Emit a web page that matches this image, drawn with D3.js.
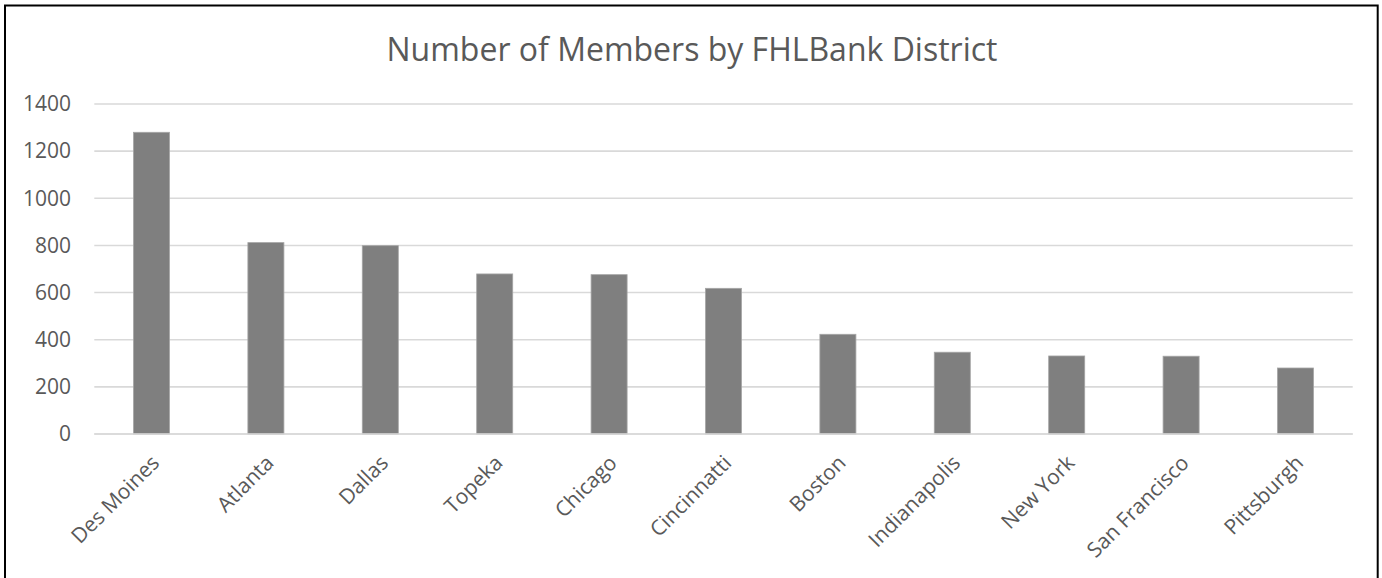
<!DOCTYPE html>
<html>
<head>
<meta charset="utf-8">
<script src="https://cdn.jsdelivr.net/npm/d3@7"></script>
<style>
  html, body { margin: 0; padding: 0; background: #fff; }
  svg { display: block; }
  text { font-family: "Open Sans", "Noto Sans", sans-serif; fill: #595959; }
</style>
</head>
<body>
<svg id="chart" width="1382" height="578"></svg>
<script>
const categories = ["Des Moines", "Atlanta", "Dallas", "Topeka", "Chicago", "Cincinnatti", "Boston", "Indianapolis", "New York", "San Francisco", "Pittsburgh"];
const members = [1280, 812, 799, 679, 676, 618, 423, 347, 331, 330, 280];
const yTicks = [0, 200, 400, 600, 800, 1000, 1200, 1400];
const title = "Number of Members by FHLBank District";

const plot = { left: 94.3, right: 1352.7, top: 104, bottom: 434 };

const svg = d3.select("#chart");

// outer border
svg.append("rect")
  .attr("x", 5).attr("y", 5.5)
  .attr("width", 1372.7).attr("height", 640)
  .attr("fill", "none").attr("stroke", "#000").attr("stroke-width", 2);

// title
svg.append("text")
  .attr("x", 692).attr("y", 60.5)
  .attr("text-anchor", "middle")
  .style("font-size", "32px")
  .text(title);

const x = d3.scaleBand()
  .domain(categories)
  .range([plot.left, plot.right])
  .paddingInner(0.685)
  .paddingOuter(0.3425);

const y = d3.scaleLinear()
  .domain([0, 1400])
  .range([plot.bottom, plot.top]);

// gridlines
svg.append("g").selectAll("line")
  .data(yTicks)
  .join("line")
  .attr("x1", plot.left).attr("x2", plot.right)
  .attr("y1", d => y(d)).attr("y2", d => y(d))
  .attr("stroke", "#d9d9d9").attr("stroke-width", 1.6);

// y axis labels
const yAxis = d3.axisLeft(y).tickValues(yTicks).tickSize(0).tickPadding(0).tickFormat(d3.format("d"));
const yg = svg.append("g").attr("transform", `translate(71,0)`).call(yAxis);
yg.select(".domain").remove();
yg.selectAll("text")
  .style("font-size", "21px")
  .attr("fill", "#595959")
  .attr("font-family", null);

// bars
svg.append("g").selectAll("rect")
  .data(categories.map((c, i) => ({ c, v: members[i] })))
  .join("rect")
  .attr("x", d => x(d.c))
  .attr("width", x.bandwidth())
  .attr("y", d => y(d.v))
  .attr("height", d => y(0) - y(d.v))
  .attr("fill", "#7f7f7f")
  .attr("stroke", "#a6a6a6").attr("stroke-width", 0.8);

// zero axis line
svg.append("line")
  .attr("x1", plot.left).attr("x2", plot.right)
  .attr("y1", y(0)).attr("y2", y(0))
  .attr("stroke", "#d9d9d9").attr("stroke-width", 1.6);

// x axis labels
const xAxis = d3.axisBottom(x).tickSize(0).tickPadding(0);
const xg = svg.append("g").attr("transform", `translate(0,${plot.bottom})`).call(xAxis);
xg.select(".domain").remove();
xg.selectAll(".tick text")
  .attr("fill", "#595959")
  .attr("font-family", null)
  .style("font-size", "21px")
  .attr("text-anchor", "end")
  .attr("y", 0)
  .attr("dy", "0.35em")
  .attr("transform", "translate(4,25) rotate(-45)");
</script>
</body>
</html>
